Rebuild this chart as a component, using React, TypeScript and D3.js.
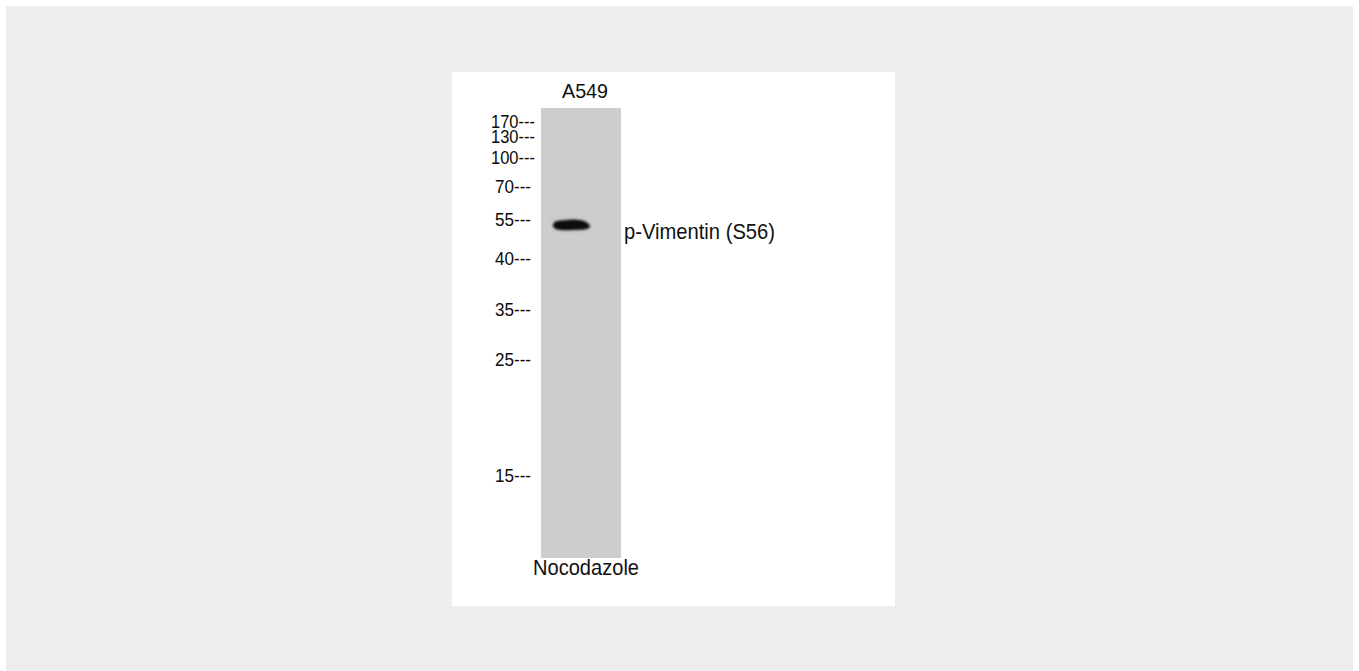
import React from "react";
import * as d3 from "d3";

// ---- data ----
const lanes = ["A549"];
const treatments = ["Nocodazole"];
const markerLabels = ["170", "130", "100", "70", "55", "40", "35", "25", "15"];
const markerKDa = [170, 130, 100, 70, 55, 40, 35, 25, 15];
const bandLabels = ["p-Vimentin (S56)"];
const bandKDa = [53];
const bandIntensity = [1];

// ---- layout ----
const W = 1359;
const H = 671;
const markerY = [121, 136, 157, 186, 219, 258, 309, 359, 475];

export default function App() {
  const y = d3.scaleLinear().domain(markerKDa).range(markerY);
  const x = d3.scaleBand().domain(lanes).range([541, 621]).padding(0);
  const laneTop = 108;
  const laneBottom = 558;

  const bandShape: [number, number][] = [
    [0, 0.5], [2.5, -3], [10, -4.2], [22, -5], [31, -3.5], [37, 1.2],
    [33, 4.2], [22, 5], [10, 5.2], [2.5, 4],
  ];
  const line = d3.line().curve(d3.curveCardinalClosed.tension(0.2));

  return (
    <svg
      width={W}
      height={H}
      style={{ position: "absolute", left: 0, top: 0, display: "block" }}
      fontFamily="'Liberation Sans', Arial, sans-serif"
    >
      <defs>
        <filter id="blur1" x="-20%" y="-50%" width="140%" height="200%">
          <feGaussianBlur stdDeviation="0.9" />
        </filter>
        <filter id="blur2" x="-30%" y="-100%" width="160%" height="300%">
          <feGaussianBlur stdDeviation="2" />
        </filter>
      </defs>
      <rect x={0} y={0} width={W} height={H} fill="#ffffff" />
      <rect x={6} y={6} width={1347} height={665} fill="#ededed" />
      <rect x={452} y={72} width={443} height={534} fill="#ffffff" />

      {lanes.map((l, i) => {
        const x0 = x(l) as number;
        const cx = x0 + x.bandwidth() / 2;
        return (
          <g key={l}>
            <rect x={x0} y={laneTop} width={x.bandwidth()} height={laneBottom - laneTop} fill="#cdcdcd" />
            <text
              x={cx + 4}
              y={98}
              fontSize={21}
              textAnchor="middle"
              fill="#111"
              textLength={46}
              lengthAdjust="spacingAndGlyphs"
            >
              {l}
            </text>
            <text
              x={cx + 5}
              y={575}
              fontSize={22}
              textAnchor="middle"
              fill="#111"
              textLength={106}
              lengthAdjust="spacingAndGlyphs"
            >
              {treatments[i]}
            </text>
          </g>
        );
      })}

      {markerLabels.map((m, i) => {
        const yy = y(markerKDa[i]);
        const three = m.length === 3;
        return (
          <text
            key={m}
            x={three ? 491 : 495}
            y={yy + 6.5}
            fontSize={18.5}
            fill="#0a0a0a"
            textLength={three ? 44 : 36}
            lengthAdjust="spacingAndGlyphs"
          >
            {m + "---"}
          </text>
        );
      })}

      {bandKDa.map((k, i) => {
        const x0 = (x(lanes[0]) as number) + 12;
        const yc = y(k) + 0.5;
        const pts = bandShape.map(([dx, dy]) => [x0 + dx, yc + dy] as [number, number]);
        const d = line(pts) as string;
        return (
          <g key={i}>
            <path d={d} fill="#333" opacity={0.35 * bandIntensity[i]} filter="url(#blur2)" />
            <path d={d} fill="#0b0b0b" opacity={bandIntensity[i]} filter="url(#blur1)" />
            <text
              x={624}
              y={239}
              fontSize={22}
              fill="#111"
              textLength={151}
              lengthAdjust="spacingAndGlyphs"
            >
              {bandLabels[i]}
            </text>
          </g>
        );
      })}
    </svg>
  );
}
